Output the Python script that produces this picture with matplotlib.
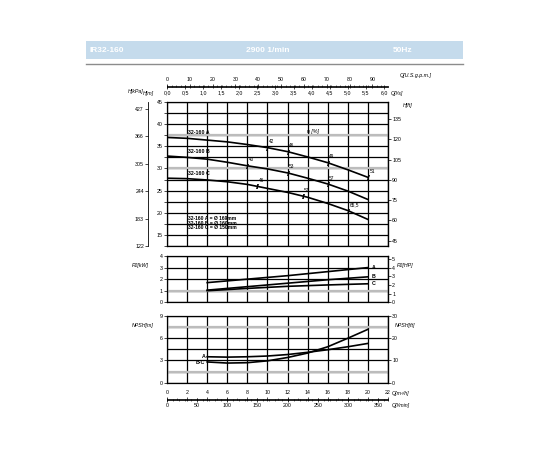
import matplotlib
matplotlib.use("Agg")
import matplotlib.pyplot as plt
from matplotlib.patches import Rectangle
from matplotlib.lines import Line2D
import numpy as np

plt.rcParams['font.family'] = ['Liberation Sans', 'DejaVu Sans']

# curve prevalenza H[m] vs Q[m3/h]
q = [0, 2, 4, 6, 8, 10, 12, 14, 16, 18, 20]
h_a = [37.0, 36.8, 36.4, 36.0, 35.4, 34.7, 33.8, 32.6, 31.3, 29.7, 28.0]
h_b = [32.8, 32.5, 32.1, 31.4, 30.6, 29.9, 29.0, 27.8, 26.5, 24.9, 23.0]
h_c = [27.8, 27.7, 27.4, 27.0, 26.4, 25.5, 24.6, 23.5, 22.1, 20.5, 18.5]

# punti di rendimento
eff_q = [10, 12, 16, 20, 8, 12, 16, 9, 13.5, 18]
eff_h = [34.7, 33.8, 31.3, 28.0, 30.6, 29.0, 26.5, 26.0, 23.8, 20.5]
eff_txt = ["42", "46", "49", "51", "40", "53", "57", "46", "57", "65,5"]

# potenza P2[kW]
q_p2 = [4, 8, 12, 16, 20]
p2_a = [1.7, 2.0, 2.3, 2.65, 3.0]
p2_b = [1.05, 1.35, 1.65, 1.95, 2.2]
p2_c = [1.0, 1.2, 1.38, 1.5, 1.6]

# NPSH[m]
q_npsh = [4, 6, 8, 10, 12, 14, 16, 18, 20]
npsh_a = [3.5, 3.45, 3.5, 3.6, 3.8, 4.1, 4.45, 4.85, 5.3]
npsh_bc = [2.8, 2.65, 2.7, 2.95, 3.4, 4.0, 4.85, 6.0, 7.2]

kpa_ticks = [122, 183, 244, 305, 366, 427]
ft_ticks = [45, 60, 75, 90, 105, 120, 135]
hp_ticks = [0, 1, 2, 3, 4, 5]
npsh_ft_ticks = [0, 10, 20, 30]
gpm_ticks = [0, 10, 20, 30, 40, 50, 60, 70, 80, 90]
ls_ticks = [0, 0.5, 1, 1.5, 2, 2.5, 3, 3.5, 4, 4.5, 5, 5.5, 6]
ls_labels = ["0,0", "0,5", "1,0", "1,5", "2,0", "2,5", "3,0", "3,5", "4,0", "4,5", "5,0", "5,5", "6,0"]
m3h_ticks = [0, 2, 4, 6, 8, 10, 12, 14, 16, 18, 20, 22]
lmin_ticks = [0, 50, 100, 150, 200, 250, 300, 350]

W, H = 550, 450
fs = 3.8
fig = plt.figure(figsize=(5.5, 4.5), dpi=100)


def box(x0, y0, x1, y1):
    return [x0 / W, 1 - y1 / H, (x1 - x0) / W, (y1 - y0) / H]


def ftxt(x, y, s, **kw):
    kw.setdefault("fontsize", fs)
    kw.setdefault("style", "italic")
    kw.setdefault("va", "center")
    fig.text(x / W, 1 - y / H, s, **kw)


# intestazione
fig.add_artist(Rectangle((86 / W, 1 - 58.5 / H), (463 - 86) / W, 17.5 / H,
                         transform=fig.transFigure, color="#c5dbec", lw=0))
fig.add_artist(Line2D([86 / W, 463 / W], [1 - 64 / H, 1 - 64 / H],
                      transform=fig.transFigure, color="#8c8c8c", lw=1))
ftxt(90, 50, "IR32-160", color="white", fontsize=6, weight="bold", style="normal")
ftxt(268, 50, "2900 1/min", color="white", fontsize=6, weight="bold", style="normal", ha="center")
ftxt(393, 50, "50Hz", color="white", fontsize=6, weight="bold", style="normal")

X0, X1 = 167, 388
GRAY = "#bcbcbc"


def base(ax):
    ax.set_xlim(0, 22)
    ax.set_xticks(np.arange(0, 23, 2))
    ax.set_xticklabels([])
    ax.tick_params(axis="x", length=0)
    ax.tick_params(axis="y", which="both", length=2, width=0.5, labelsize=fs, pad=1)
    ax.grid(True, which="both", color="black", lw=0.9)
    for s in ax.spines.values():
        s.set_linewidth(0.9)


def twin(ax, lo, hi, ticks, side="right", offset=None):
    t = ax.twinx()
    t.set_ylim(lo, hi)
    t.set_yticks(ticks)
    t.tick_params(axis="y", length=2, width=0.5, labelsize=fs, pad=1)
    for k in ["top", "bottom"]:
        t.spines[k].set_visible(False)
    if side == "left":
        t.spines["right"].set_visible(False)
        t.spines["left"].set_position(("axes", offset))
        t.spines["left"].set_linewidth(0.6)
        t.yaxis.set_ticks_position("left")
    else:
        t.spines["left"].set_visible(False)
    return t


# grafico H
ax = fig.add_axes(box(X0, 102, X1, 246))
base(ax)
ax.set_ylim(12.5, 45)
ax.set_yticks(np.arange(15, 46, 5))
ax.set_yticks(np.arange(12.5, 45, 5), minor=True)
for v in [37.5, 30]:
    ax.axhline(v, color=GRAY, lw=1.6, zorder=2.5)
for hh in [h_a, h_b, h_c]:
    ax.plot(q, hh, color="black", lw=1.2, zorder=3)
ax.plot(eff_q, eff_h, ls="none", marker=(2, 2, -15), ms=3.5, mew=0.7, color="black", zorder=4)
for xq, yh, s in zip(eff_q, eff_h, eff_txt):
    ax.text(xq + 0.15, yh + 1.0, s, fontsize=3.4, zorder=5)
ax.text(2.1, h_a[0] + 0.8, "32-160 A", fontsize=fs, weight="bold")
ax.text(2.1, h_b[0] + 0.8, "32-160 B", fontsize=fs, weight="bold")
ax.text(2.1, h_c[0] + 0.8, "32-160 C", fontsize=fs, weight="bold")
ax.text(2.1, 19.3, "32-160 A = Ø 169mm\n32-160 B = Ø 160mm\n32-160 C = Ø 150mm",
        fontsize=3.6, weight="bold", linespacing=0.95, va="top")
ax.text(14.5, 38.3, "η [%]", fontsize=fs, style="italic", ha="center", va="center")
twin(ax, 12.5 * 3.2808, 45 * 3.2808, ft_ticks)
twin(ax, 12.5 * 9.81, 45 * 9.81, kpa_ticks, side="left", offset=-19 / (X1 - X0))

ftxt(128, 92, "H[kPa]")
ftxt(143, 93, "H[m]")
ftxt(403, 105, "H[ft]")

# grafico P2
axp = fig.add_axes(box(X0, 256, X1, 302.3))
base(axp)
axp.set_ylim(0, 4)
axp.set_yticks([0, 1, 2, 3, 4])
axp.axhline(1, color=GRAY, lw=1.6, zorder=2.5)
for pp, lab in [(p2_a, "A"), (p2_b, "B"), (p2_c, "C")]:
    axp.plot(q_p2, pp, color="black", lw=1.2, zorder=3)
    axp.text(20.4, pp[-1], lab, fontsize=fs, weight="bold", va="center")
twin(axp, 0, 4 * 1.341, hp_ticks)
ftxt(132, 266, "P2[kW]")
ftxt(397, 266, "P2[HP]")

# grafico NPSH
axn = fig.add_axes(box(X0, 316, X1, 382.7))
base(axn)
axn.set_ylim(0, 9)
axn.set_yticks([0, 3, 6, 9])
axn.set_yticks([1.5, 4.5, 7.5], minor=True)
axn.tick_params(axis="y", which="minor", length=0)
for v in [1.5, 7.5]:
    axn.axhline(v, color=GRAY, lw=1.6, zorder=2.5)
axn.plot(q_npsh, npsh_a, color="black", lw=1.2, zorder=3)
axn.plot(q_npsh, npsh_bc, color="black", lw=1.2, zorder=3)
axn.text(3.8, npsh_a[0] + 0.1, "A", fontsize=fs, weight="bold", ha="right", va="center")
axn.text(3.8, npsh_bc[0] - 0.1, "B-C", fontsize=fs, weight="bold", ha="right", va="center")
twin(axn, 0, 30, npsh_ft_ticks)
ftxt(132, 326, "NPSH[m]")
ftxt(395, 326, "NPSH[ft]")


# scale portata
def scale(y, hi, ticks, labels, minor, top):
    a = fig.add_axes(box(X0, y - 0.5, X1, y))
    a.patch.set_visible(False)
    a.set_xlim(0, hi)
    a.set_yticks([])
    for k in a.spines:
        a.spines[k].set_visible(False)
    side = "top" if top else "bottom"
    a.spines[side].set_visible(True)
    a.spines[side].set_linewidth(0.6)
    a.xaxis.set_ticks_position(side)
    a.set_xticks(ticks)
    a.set_xticklabels(labels)
    a.set_xticks(minor, minor=True)
    a.tick_params(axis="x", which="major", length=2.5, width=0.5, labelsize=fs, pad=1.5, direction="inout")
    a.tick_params(axis="x", which="minor", length=1.5, width=0.4, direction="inout")
    return a


scale(86.5, 22 / 0.22712, gpm_ticks, [str(v) for v in gpm_ticks], np.arange(0, 96, 2), True)
scale(86.5, 22 / 3.6, ls_ticks, ls_labels, [], False)
scale(399.5, 22, m3h_ticks, [str(v) for v in m3h_ticks], np.arange(0, 23, 1), True)
scale(399.5, 22 * 1000 / 60, lmin_ticks, [str(v) for v in lmin_ticks], np.arange(0, 366, 10), False)

ftxt(400, 75, "Q[U.S.g.p.m.]")
ftxt(391, 93, "Q[l/s]")
ftxt(392, 394, "Q[m³/h]")
ftxt(392, 405, "Q[l/min]")

fig.savefig("out.png", dpi=100)
